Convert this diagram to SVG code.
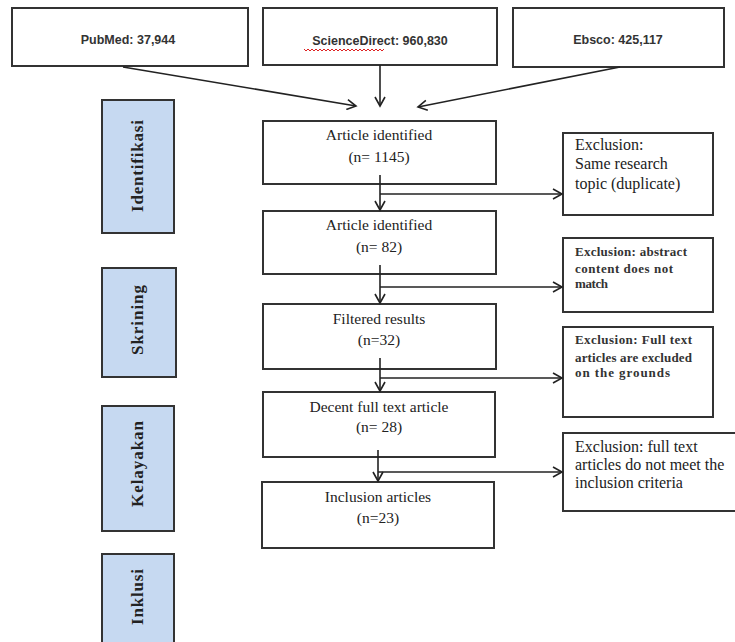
<svg xmlns="http://www.w3.org/2000/svg" width="735" height="642" viewBox="0 0 735 642">
<defs>
<marker id="ah" markerWidth="12" markerHeight="12" refX="10" refY="6" orient="auto" markerUnits="userSpaceOnUse">
<path d="M1,1 L10,6 L1,11" fill="none" stroke="#222" stroke-width="1.6"/>
</marker>
<style>
.box{fill:#fff;stroke:#333;stroke-width:2}
.phase{fill:#c6d9f1;stroke:#333;stroke-width:2}
.src{font-family:"Liberation Sans",Arial,sans-serif;font-size:12.5px;font-weight:bold;fill:#333;text-anchor:middle}
.main{font-family:"Liberation Serif","Times New Roman",serif;font-size:15.5px;fill:#222;text-anchor:middle}
.exl{font-family:"Liberation Serif","Times New Roman",serif;font-size:16px;fill:#222}
.exs{font-family:"Liberation Serif","Times New Roman",serif;font-size:13px;font-weight:bold;fill:#333}
.lab{font-family:"Liberation Serif","Times New Roman",serif;font-size:17px;font-weight:bold;fill:#222;text-anchor:middle}
.con{fill:none;stroke:#222;stroke-width:1.6}
</style>
</defs>
<rect width="735" height="642" fill="#fff"/>

<g id="pubmed"><rect class="box" x="12" y="8" width="236" height="58"/><text class="src" x="128" y="44">PubMed: 37,944</text></g>
<g id="sciencedirect"><rect class="box" x="263" y="8" width="234" height="57"/><text class="src" x="380" y="45">ScienceDirect: 960,830</text>
<path d="M304,49 l2,2 l2,-2 l2,2 l2,-2 l2,2 l2,-2 l2,2 l2,-2 l2,2 l2,-2 l2,2 l2,-2 l2,2 l2,-2 l2,2 l2,-2 l2,2 l2,-2 l2,2 l2,-2 l2,2 l2,-2 l2,2 l2,-2 l2,2 l2,-2 l2,2 l2,-2 l2,2 l2,-2 l2,2 l2,-2 l2,2 l2,-2 l2,2 l2,-2 l2,2 l2,-2 l2,2 l2,-2" fill="none" stroke="#d22" stroke-width="1"/></g>
<g id="ebsco"><rect class="box" x="513" y="8" width="211" height="59"/><text class="src" x="618" y="44">Ebsco: 425,117</text></g>

<g id="identifikasi"><rect class="phase" x="102" y="100" width="72" height="133"/><text class="lab" transform="translate(143,166) rotate(-90)" textLength="92">Identifikasi</text></g>
<g id="skrining"><rect class="phase" x="102" y="268" width="74" height="109"/><text class="lab" transform="translate(143,320) rotate(-90)" textLength="70">Skrining</text></g>
<g id="kelayakan"><rect class="phase" x="102" y="406" width="72" height="125"/><text class="lab" transform="translate(143,464) rotate(-90)" textLength="86">Kelayakan</text></g>
<g id="inklusi"><rect class="phase" x="102" y="554" width="72" height="96"/><text class="lab" transform="translate(143,597) rotate(-90)" textLength="56">Inklusi</text></g>

<g id="n1"><rect class="box" x="263" y="121" width="233" height="63"/><text class="main" x="379" y="140">Article identified</text><text class="main" x="379" y="162">(n= 1145)</text></g>
<g id="n2"><rect class="box" x="263" y="211" width="233" height="63"/><text class="main" x="379" y="230">Article identified</text><text class="main" x="379" y="252">(n= 82)</text></g>
<g id="n3"><rect class="box" x="263" y="304" width="233" height="65"/><text class="main" x="379" y="324">Filtered results</text><text class="main" x="379" y="345">(n=32)</text></g>
<g id="n4"><rect class="box" x="263" y="392" width="232" height="65"/><text class="main" x="379" y="412">Decent full text article</text><text class="main" x="379" y="432">(n= 28)</text></g>
<g id="n5"><rect class="box" x="262" y="482" width="232" height="66"/><text class="main" x="378" y="502">Inclusion articles</text><text class="main" x="378" y="523">(n=23)</text></g>

<g id="e1"><rect class="box" x="563" y="133" width="150" height="82"/><text class="exl" x="575" y="150">Exclusion:</text><text class="exl" x="575" y="169">Same research</text><text class="exl" x="575" y="189">topic (duplicate)</text></g>
<g id="e2"><rect class="box" x="563" y="238" width="150" height="74"/><text class="exs" x="575" y="256" textLength="112">Exclusion: abstract</text><text class="exs" x="575" y="273" textLength="98">content does not</text><text class="exs" x="575" y="288" textLength="33">match</text></g>
<g id="e3"><rect class="box" x="563" y="327" width="150" height="90"/><text class="exs" x="575" y="344" textLength="117">Exclusion: Full text</text><text class="exs" x="575" y="362" textLength="117">articles are excluded</text><text class="exs" x="575" y="377" textLength="95">on the grounds</text></g>
<g id="e4"><rect class="box" x="563" y="433" width="180" height="78"/><text class="exl" x="575" y="452">Exclusion: full text</text><text class="exl" x="575" y="470">articles do not meet the</text><text class="exl" x="575" y="488">inclusion criteria</text></g>

<g id="connectors">
<line class="con" x1="123" y1="67" x2="356" y2="106" marker-end="url(#ah)"/>
<line class="con" x1="380" y1="65" x2="380" y2="106" marker-end="url(#ah)"/>
<line class="con" x1="620" y1="67" x2="418" y2="107" marker-end="url(#ah)"/>
<line class="con" x1="380" y1="175" x2="380" y2="210" marker-end="url(#ah)"/>
<line class="con" x1="380" y1="194" x2="562" y2="194" marker-end="url(#ah)"/>
<line class="con" x1="380" y1="265" x2="380" y2="303" marker-end="url(#ah)"/>
<line class="con" x1="380" y1="287" x2="562" y2="287" marker-end="url(#ah)"/>
<line class="con" x1="380" y1="358" x2="380" y2="391" marker-end="url(#ah)"/>
<line class="con" x1="380" y1="378" x2="562" y2="378" marker-end="url(#ah)"/>
<line class="con" x1="378" y1="450" x2="378" y2="481" marker-end="url(#ah)"/>
<line class="con" x1="378" y1="472" x2="562" y2="472" marker-end="url(#ah)"/>
</g>
</svg>
